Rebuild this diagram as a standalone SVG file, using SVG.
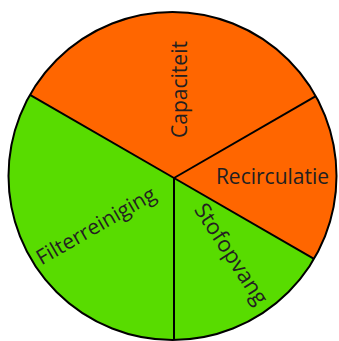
<svg xmlns="http://www.w3.org/2000/svg" width="339" height="341" viewBox="0 0 339 341">
  <style>
    .orange { fill: #FF6600; }
    .green { fill: #58DC00; }
    .lbl { font-family: "Open Sans", "Liberation Sans", sans-serif; font-size: 21px; fill: #231F20; text-anchor: middle; }
    .edge { stroke: #000; stroke-width: 2; fill: none; }
  </style>
  <rect width="339" height="341" fill="#fff"/>
  <g id="capaciteit">
    <path class="orange" d="M174,178 L30,94.9 A164,164 0 0 1 315.8,96.2 Z"/>
    <text class="lbl" transform="translate(187,89.5) rotate(-90)">Capaciteit</text>
  </g>
  <g id="recirculatie">
    <path class="orange" d="M174,178 L315.8,96.2 A164,164 0 0 1 314,258.9 Z"/>
    <text class="lbl" x="272.5" y="184">Recirculatie</text>
  </g>
  <g id="stofopvang">
    <path class="green" d="M174,178 L314,258.9 A164,164 0 0 1 174,340 Z"/>
    <text class="lbl" transform="translate(225,258) rotate(57)" style="font-size:22px">Stofopvang</text>
  </g>
  <g id="filterreiniging">
    <path class="green" d="M174,178 L174,340 A164,164 0 0 1 30,94.9 Z"/>
    <text class="lbl" transform="translate(99.5,232) rotate(-30)">Filterreiniging</text>
  </g>
  <g id="connectors">
    <circle class="edge" cx="172.5" cy="176" r="164"/>
    <line class="edge" x1="174" y1="178" x2="30" y2="94.9"/>
    <line class="edge" x1="174" y1="178" x2="315.8" y2="96.2"/>
    <line class="edge" x1="174" y1="178" x2="314" y2="258.9"/>
    <line class="edge" x1="174" y1="178" x2="174" y2="340"/>
  </g>
</svg>
